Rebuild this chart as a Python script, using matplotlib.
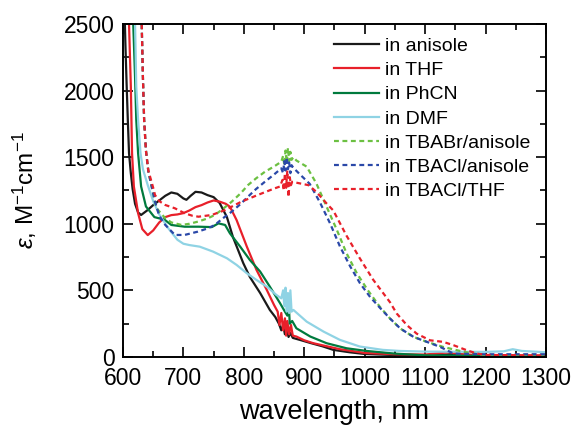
import matplotlib
matplotlib.use('Agg')
import matplotlib.pyplot as plt
from matplotlib.ticker import MultipleLocator

plt.rcParams['font.family'] = ['Liberation Sans', 'DejaVu Sans']
plt.rcParams['mathtext.fontset'] = 'custom'
plt.rcParams['mathtext.rm'] = 'Liberation Sans'
plt.rcParams['mathtext.it'] = 'Liberation Sans:italic'

# absorption spectra (wavelength in nm, epsilon in M^-1 cm^-1)
anisole_x = [600, 602, 604, 606, 608, 610, 613, 616, 620, 625, 630, 640, 650, 660, 670, 680, 690, 700,
             705, 712, 720, 730, 740, 750, 760, 772, 782, 799, 810, 827, 843, 852, 858, 862, 865, 868,
             871, 874, 877, 881, 895, 910, 930, 948, 975, 1000, 1050, 1100, 1130, 1150, 1170, 1200, 1250, 1300]
anisole_y = [3200, 2700, 2350, 2050, 1780, 1530, 1380, 1260, 1150, 1085, 1066, 1100, 1140, 1175, 1210, 1235, 1225, 1190,
             1180, 1210, 1240, 1235, 1215, 1200, 1156, 1050, 900, 705, 600, 480, 353, 300, 250, 200, 240, 170,
             210, 150, 180, 143, 125, 105, 80, 53, 35, 22, 14, 10, 15, 25, 12, 6, 5, 4]

thf_x = [608, 610, 613, 615, 618, 625, 632, 641, 650, 660, 670, 680, 690, 700, 710, 720, 730, 740, 750, 760,
         770, 777, 788, 805, 821, 838, 850, 856, 859, 862, 865, 868, 870, 872, 875, 878, 881, 887, 900, 915,
         959, 1000, 1050, 1100, 1140, 1160, 1200, 1300]
thf_y = [2800, 2500, 2030, 1530, 1280, 1080, 960, 915, 950, 1010, 1050, 1065, 1070, 1080, 1100, 1125, 1140, 1160, 1175, 1166,
         1150, 1128, 1028, 828, 653, 503, 390, 340, 240, 330, 200, 290, 160, 270, 170, 240, 160, 153, 125, 103,
         58, 30, 20, 18, 35, 20, 12, 10]

phcn_x = [615, 617, 620, 622, 625, 630, 638, 652, 669, 680, 702, 725, 747, 758, 769, 777, 794, 810, 827, 843,
          860, 868, 872, 874, 876, 880, 887, 910, 937, 970, 1003, 1050, 1100, 1200, 1300]
phcn_y = [3000, 2500, 2100, 1780, 1530, 1280, 1130, 1050, 1030, 991, 978, 978, 975, 1003, 991, 928, 828, 728, 641, 528,
          403, 340, 310, 420, 250, 270, 215, 153, 103, 65, 45, 25, 12, 8, 5]

dmf_x = [617, 620, 622, 625, 629, 633, 641, 650, 660, 675, 690, 700, 710, 727, 749, 772, 788, 805, 821, 838,
         854, 862, 865, 867, 869, 871, 873, 875, 877, 879, 882, 904, 932, 959, 992, 1030, 1058, 1100, 1200,
         1230, 1245, 1260, 1300]
dmf_y = [3000, 2500, 2030, 1780, 1530, 1410, 1290, 1170, 1070, 966, 880, 850, 840, 828, 791, 741, 691, 628, 578, 528,
         465, 440, 500, 380, 520, 340, 480, 330, 500, 340, 353, 265, 190, 128, 78, 53, 45, 40, 38,
         42, 58, 45, 35]

tbabr_x = [629, 631, 633, 635, 638, 642, 648, 655, 670, 680, 697, 710, 724, 740, 752, 765, 780, 795, 807, 820,
           835, 850, 862, 865, 867, 869, 871, 873, 875, 877, 879, 882, 887, 904, 920, 937, 954, 970, 987,
           1005, 1025, 1042, 1059, 1081, 1103, 1130, 1164, 1197, 1250, 1300]
tbabr_y = [3000, 2500, 2100, 1780, 1550, 1391, 1268, 1120, 1041, 1010, 991, 1000, 1016, 1040, 1066, 1110, 1166, 1230, 1291, 1340,
           1391, 1430, 1466, 1510, 1440, 1550, 1460, 1570, 1470, 1540, 1480, 1500, 1475, 1429, 1303, 1128, 953, 778, 628,
           502, 377, 288, 213, 150, 113, 75, 38, 13, 15, 15]

tbacl_an_x = [629, 631, 633, 635, 638, 642, 648, 653, 660, 670, 686, 702, 724, 740, 752, 765, 780, 795, 807, 820,
              835, 850, 862, 865, 867, 869, 871, 873, 875, 877, 879, 882, 893, 909, 926, 943, 959, 976, 992,
              1009, 1025, 1042, 1059, 1081, 1103, 1125, 1136, 1147, 1200, 1300]
tbacl_an_y = [3000, 2500, 2100, 1780, 1550, 1391, 1268, 1166, 1060, 991, 916, 916, 941, 965, 991, 1040, 1091, 1150, 1204, 1260,
              1316, 1370, 1416, 1380, 1470, 1400, 1500, 1410, 1460, 1380, 1440, 1420, 1370, 1300, 1160, 1000, 830, 680, 555,
              450, 370, 288, 213, 150, 113, 75, 50, 25, 20, 20]

tbacl_thf_x = [629, 631, 633, 635, 638, 642, 650, 653, 660, 670, 686, 702, 715, 725, 747, 769, 796, 823, 851, 860,
               864, 866, 868, 870, 872, 874, 876, 878, 880, 893, 907, 920, 937, 948, 970, 992, 1014, 1042,
               1053, 1070, 1086, 1108, 1130, 1147, 1169, 1186, 1200, 1300]
tbacl_thf_y = [3000, 2500, 2100, 1780, 1550, 1400, 1270, 1216, 1170, 1141, 1116, 1079, 1060, 1053, 1066, 1103, 1166, 1216, 1266, 1280,
               1330, 1250, 1380, 1270, 1400, 1200, 1350, 1290, 1315, 1303, 1290, 1240, 1152, 1100, 910, 740, 580, 410,
               326, 238, 175, 125, 113, 88, 50, 25, 15, 10]

series = [
    (anisole_x, anisole_y, 'in anisole', '#1a1a1a', '-'),
    (thf_x, thf_y, 'in THF', '#e8202a', '-'),
    (phcn_x, phcn_y, 'in PhCN', '#007a3d', '-'),
    (dmf_x, dmf_y, 'in DMF', '#8fd3e4', '-'),
    (tbabr_x, tbabr_y, 'in TBABr/anisole', '#6cc042', (0, (2.2, 1.6))),
    (tbacl_an_x, tbacl_an_y, 'in TBACl/anisole', '#2a48a8', (0, (2.2, 1.6))),
    (tbacl_thf_x, tbacl_thf_y, 'in TBACl/THF', '#e8202a', (0, (2.2, 1.6))),
]

fig = plt.figure(figsize=(5.72, 4.29), dpi=100)
ax = fig.add_axes([0.215, 0.168, 0.7395, 0.776])

for x, y, lab, col, ls in series:
    ax.plot(x, y, color=col, linestyle=ls, linewidth=1.6, label=lab)

ax.set_xlim(600, 1300)
ax.set_ylim(0, 2500)
ax.xaxis.set_major_locator(MultipleLocator(100))
ax.xaxis.set_minor_locator(MultipleLocator(50))
ax.yaxis.set_major_locator(MultipleLocator(500))
ax.yaxis.set_minor_locator(MultipleLocator(250))
ax.tick_params(which='both', direction='in', top=True, right=True, labelsize=16.5, width=1.2)
ax.tick_params(axis='y', pad=6)
ax.tick_params(axis='x', pad=7)
ax.tick_params(which='major', length=7)
ax.tick_params(which='minor', length=4)
for s in ax.spines.values():
    s.set_linewidth(1.4)

ax.set_xlabel('wavelength, nm', fontsize=19.5, labelpad=7)
ax.set_ylabel(r'$\varepsilon$, M$^{-1}$cm$^{-1}$', fontsize=17.5, labelpad=18)

ax.legend(loc='upper left', bbox_to_anchor=(0.5, 0.96), frameon=False, fontsize=14,
          handlelength=2.3, handletextpad=0.3, labelspacing=0.34, borderpad=0, borderaxespad=0)

fig.savefig('out.png', dpi=100)
